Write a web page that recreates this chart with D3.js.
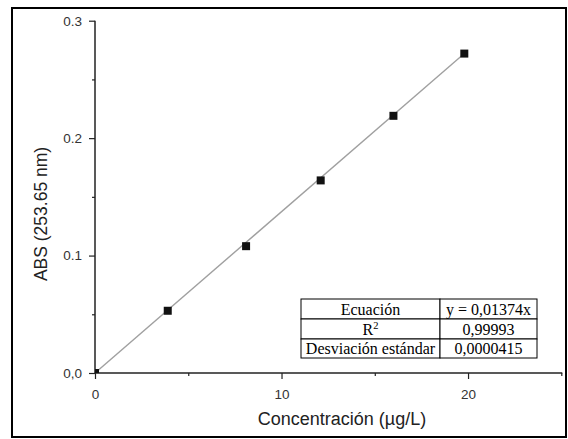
<!DOCTYPE html>
<html><head><meta charset="utf-8">
<script src="https://cdn.jsdelivr.net/npm/d3@7"></script>
<style>body{margin:0;background:#fff}svg{display:block}</style>
</head><body>
<script>
const concentrations = [0, 3.9, 8.1, 12.1, 16.0, 19.8];
const absorbances = [0, 0.053, 0.108, 0.164, 0.219, 0.272];
const slope = 0.01374;
const xMajorTicks = [0, 10, 20];
const xMinorTicks = [5, 15, 25];
const yMajorTicks = [0, 0.1, 0.2, 0.3];
const yTickLabels = ["0,0", "0.1", "0.2", "0.3"];
const yMinorTicks = [0.05, 0.15, 0.25];
const tableRows = [["Ecuación", "y = 0,01374x"], ["R2", "0,99993"], ["Desviación estándar", "0,0000415"]];

const W = 568, H = 439;
const svg = d3.select("body").append("svg").attr("width", W).attr("height", H);
svg.append("rect").attr("x", 12).attr("y", 8).attr("width", 554).attr("height", 429)
  .attr("fill", "#fff").attr("stroke", "#000").attr("stroke-width", 2);

const x = d3.scaleLinear().domain([0, 25]).range([95, 561.3]);
const y = d3.scaleLinear().domain([0, 0.3]).range([373, 20.7]);
const axisColor = "#222";
const font = "'Liberation Sans', Arial, sans-serif";

svg.append("defs").append("clipPath").attr("id", "plotclip").append("rect")
  .attr("x", x(0)).attr("y", y(0.3) - 10).attr("width", x(25) - x(0) + 10).attr("height", y(0) - y(0.3) + 10);

// fit line
const fitX = [0, d3.max(concentrations)];
svg.append("line").attr("x1", x(fitX[0])).attr("y1", y(slope * fitX[0]))
  .attr("x2", x(fitX[1])).attr("y2", y(slope * fitX[1]))
  .attr("stroke", "#a0a0a0").attr("stroke-width", 1.4);

// axes
const xAxis = svg.append("g").attr("transform", `translate(0,${y(0)})`)
  .call(d3.axisBottom(x).tickValues(xMajorTicks).tickSize(6).tickPadding(10).tickFormat(d3.format("d")));
const xMinor = svg.append("g").attr("transform", `translate(0,${y(0)})`)
  .call(d3.axisBottom(x).tickValues(xMinorTicks).tickSize(3).tickFormat(""));
const yAxis = svg.append("g").attr("transform", `translate(${x(0)},0)`)
  .call(d3.axisLeft(y).tickValues(yMajorTicks).tickSize(6).tickPadding(7).tickFormat((d, i) => yTickLabels[i]));
const yMinor = svg.append("g").attr("transform", `translate(${x(0)},0)`)
  .call(d3.axisLeft(y).tickValues(yMinorTicks).tickSize(3).tickFormat(""));
[xAxis, xMinor, yAxis, yMinor].forEach(g => {
  g.select(".domain").remove();
  g.selectAll(".tick line").attr("stroke", axisColor).attr("stroke-width", 1.2);
  g.selectAll("text").attr("fill", "#333").style("font-family", font).style("font-size", "13.5px");
});
svg.append("line").attr("x1", x(0)).attr("x2", x(25) + 1).attr("y1", y(0)).attr("y2", y(0))
  .attr("stroke", axisColor).attr("stroke-width", 1.5);
svg.append("line").attr("x1", x(0)).attr("x2", x(0)).attr("y1", y(0) + 0.75).attr("y2", y(0.3))
  .attr("stroke", axisColor).attr("stroke-width", 1.5);

// markers
const ms = 8;
svg.append("g").attr("clip-path", "url(#plotclip)").selectAll("rect").data(concentrations).join("rect")
  .attr("x", (d) => x(d) - ms / 2).attr("y", (d, i) => y(absorbances[i]) - ms / 2)
  .attr("width", ms).attr("height", ms).attr("fill", "#111");

// axis titles
svg.append("text").attr("x", 342).attr("y", 425).attr("text-anchor", "middle")
  .style("font-family", font).style("font-size", "18px").attr("fill", "#222").text("Concentración (µg/L)");
svg.append("text").attr("transform", `translate(47,214) rotate(-90)`).attr("text-anchor", "middle")
  .style("font-family", font).style("font-size", "17.5px").attr("fill", "#222").text("ABS (253.65 nm)");

// table
const tx = [301, 440, 537];
const ty = [299, 319, 339, 358];
const tg = svg.append("g");
tableRows.forEach((row, i) => {
  row.forEach((cell, j) => {
    tg.append("rect").attr("x", tx[j]).attr("y", ty[i]).attr("width", tx[j + 1] - tx[j]).attr("height", ty[i + 1] - ty[i])
      .attr("fill", "#fff").attr("stroke", "#000").attr("stroke-width", 1);
    const t = tg.append("text").attr("x", (tx[j] + tx[j + 1]) / 2).attr("y", (ty[i] + ty[i + 1]) / 2 + 5.5)
      .attr("text-anchor", "middle").style("font-family", "'Liberation Serif', 'Times New Roman', serif")
      .style("font-size", "16px").attr("fill", "#000");
    if (cell === "R2") {
      t.append("tspan").text("R");
      t.append("tspan").attr("dy", -6).style("font-size", "10.5px").text("2");
    } else t.text(cell);
  });
});
</script>
</body></html>
